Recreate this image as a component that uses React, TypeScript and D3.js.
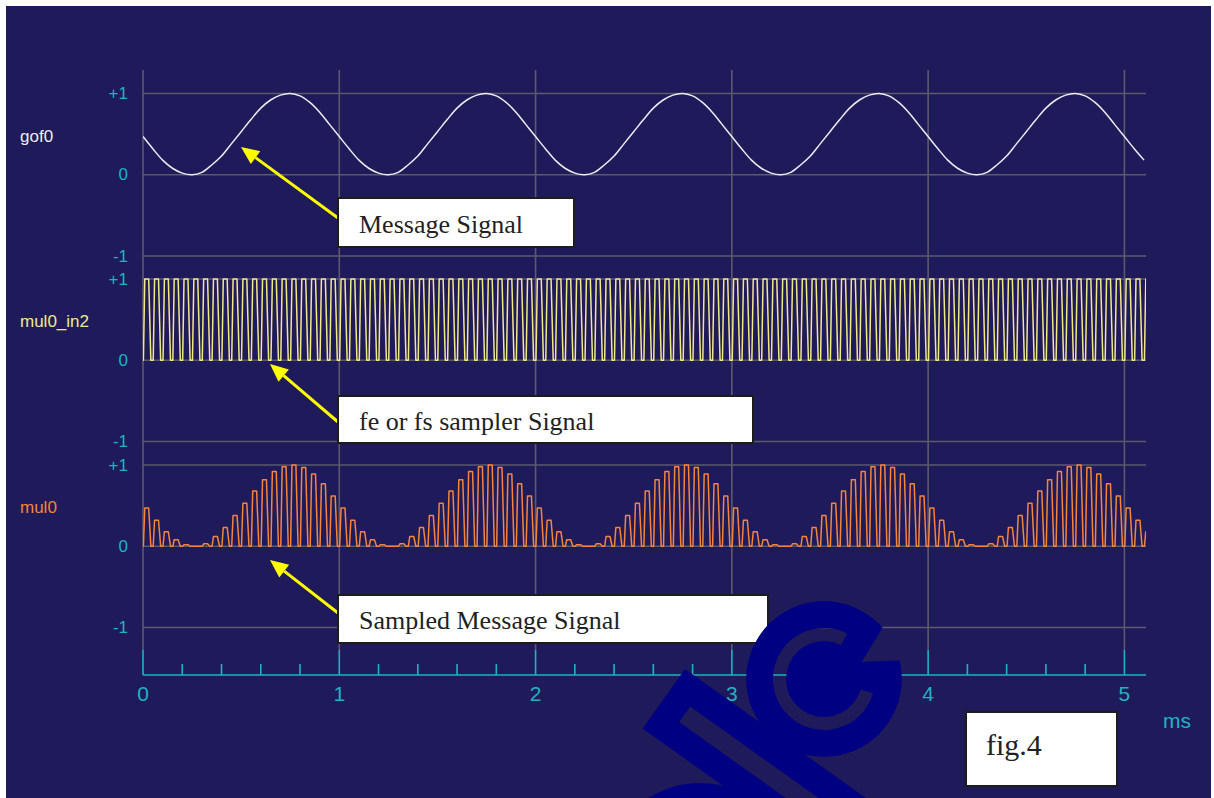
import React from 'react';
import * as d3 from 'd3';

const W = 1214;
const H = 798;

// Time axis (ms)
const timeDomain = [0, 5.11];
const majorTicks = [0, 1, 2, 3, 4, 5];
const minorTicks = [0.2, 0.4, 0.6, 0.8, 1.2, 1.4, 1.6, 1.8, 2.2, 2.4, 2.6, 2.8, 3.2, 3.4, 3.6, 3.8, 4.2, 4.4, 4.6, 4.8];
const timeUnit = 'ms';

// Vertical levels of every channel
const levelValues = [1, 0, -1];
const levelLabels = ['+1', '0', '-1'];

// Channels
const channelNames = ['gof0', 'mul0_in2', 'mul0'];
const channelColors = ['#ecebf2', '#f2e889', '#f5843c'];

// Sampler period (ms) — one clock pulse per message sample
const samplePeriod = 0.05;

// Message signal gof0, one value per sampler period starting at t = 0
const message = [
  0.47, 0.32, 0.18, 0.08, 0.02, 0.0, 0.03, 0.12, 0.23, 0.38, 0.53, 0.68, 0.82, 0.92, 0.98, 1.0, 0.97, 0.89, 0.77, 0.62,
  0.47, 0.32, 0.18, 0.08, 0.02, 0.0, 0.03, 0.12, 0.23, 0.38, 0.53, 0.68, 0.82, 0.92, 0.98, 1.0, 0.97, 0.89, 0.77, 0.62,
  0.47, 0.32, 0.18, 0.08, 0.02, 0.0, 0.03, 0.12, 0.23, 0.38, 0.53, 0.68, 0.82, 0.92, 0.98, 1.0, 0.97, 0.89, 0.77, 0.62,
  0.47, 0.32, 0.18, 0.08, 0.02, 0.0, 0.03, 0.12, 0.23, 0.38, 0.53, 0.68, 0.82, 0.92, 0.98, 1.0, 0.97, 0.89, 0.77, 0.62,
  0.47, 0.32, 0.18, 0.08, 0.02, 0.0, 0.03, 0.12, 0.23, 0.38, 0.53, 0.68, 0.82, 0.92, 0.98, 1.0, 0.97, 0.89, 0.77, 0.62,
  0.47, 0.32, 0.18,
];

// Pulse shape inside one sampler period (ms offsets)
const pulseRiseStart = 0.002;
const pulseTopStart = 0.009;
const pulseTopEnd = 0.029;
const pulseFallEnd = 0.04;

// Callout notes
const callouts = [
  { text: 'Message Signal', box: [338, 198, 236, 49], tail: [338, 218], tip: [241, 147] },
  { text: 'fe or fs sampler Signal', box: [338, 396, 415, 47], tail: [338, 422], tip: [270, 364] },
  { text: 'Sampled Message Signal', box: [338, 595, 430, 48], tail: [338, 613], tip: [270, 560] },
];
const figLabel = 'fig.4';

const BG = '#1f1b5b';
const GRID = '#5b5a6c';
const CYAN = '#1fb3c2';
const WATERMARK = '#000082';

const plotLeft = 143;
const plotRight = 1146;
const panelTops = [93.5, 279, 465];
const panelHeight = 162.5;
const gridTop = 70;
const gridBottom = 650;
const axisY = 675;

function Arrow({ tail, tip }: { tail: number[]; tip: number[] }) {
  const ang = Math.atan2(tip[1] - tail[1], tip[0] - tail[0]);
  const headLen = 18;
  const headHalf = 8;
  const bx = tip[0] - headLen * Math.cos(ang);
  const by = tip[1] - headLen * Math.sin(ang);
  const px = -Math.sin(ang) * headHalf;
  const py = Math.cos(ang) * headHalf;
  return (
    <g>
      <line x1={tail[0]} y1={tail[1]} x2={bx} y2={by} stroke="#ffff00" strokeWidth={3} />
      <polygon points={`${tip[0]},${tip[1]} ${bx + px},${by + py} ${bx - px},${by - py}`} fill="#ffff00" />
    </g>
  );
}

export default function App() {
  const x = d3.scaleLinear().domain(timeDomain).range([plotLeft, plotRight]);
  const yScales = panelTops.map((top) => d3.scaleLinear().domain([-1, 1]).range([top + panelHeight, top]));

  const sampleTimes = message.map((_, i) => i * samplePeriod);

  // gof0: smooth message curve
  const msgPts: [number, number][] = message.map((v, i) => [sampleTimes[i], v]);
  const msgLine = d3
    .line<[number, number]>()
    .x((d) => x(d[0]))
    .y((d) => yScales[0](d[1]))
    .curve(d3.curveCatmullRom)(msgPts);

  // mul0_in2: sampler pulse train ; mul0: message x sampler
  const clockPts: [number, number][] = [[0, 0]];
  const prodPts: [number, number][] = [[0, 0]];
  sampleTimes.forEach((t, i) => {
    clockPts.push([t + pulseRiseStart, 0], [t + pulseTopStart, 1], [t + pulseTopEnd, 1], [t + pulseFallEnd, 0]);
    prodPts.push([t + pulseRiseStart, 0], [t + pulseTopStart, message[i]], [t + pulseTopEnd, message[i]], [t + pulseFallEnd, 0]);
  });
  clockPts.push([timeDomain[1], 0]);
  prodPts.push([timeDomain[1], 0]);
  const clockLine = d3.line<[number, number]>().x((d) => x(d[0])).y((d) => yScales[1](d[1]))(clockPts);
  const prodLine = d3.line<[number, number]>().x((d) => x(d[0])).y((d) => yScales[2](d[1]))(prodPts);

  // Watermark logo pieces
  const cx = 824;
  const cy = 679;
  const cGap = d3.arc()({
    innerRadius: 38,
    outerRadius: 51,
    startAngle: (106 * Math.PI) / 180,
    endAngle: (387 * Math.PI) / 180,
  } as any);

  return (
    <svg
      width={W}
      height={H}
      style={{ position: 'absolute', left: 0, top: 0, display: 'block', background: '#ffffff' }}
      fontFamily="'Liberation Sans', Arial, sans-serif"
    >
      <defs>
        <clipPath id="plotClip">
          <rect x={plotLeft} y={gridTop} width={plotRight - plotLeft} height={gridBottom - gridTop} />
        </clipPath>
        <mask id="logoC" maskUnits="userSpaceOnUse" x={0} y={0} width={W} height={H}>
          <circle cx={cx} cy={cy} r={78} fill="#fff" />
          <path d={cGap ?? ''} transform={`translate(${cx},${cy})`} fill="#000" />
          <polygon points="861.7,661.7 895,608 930,625 930,659.3" fill="#000" />
        </mask>
      </defs>

      <rect x={6} y={6} width={1205} height={792} fill={BG} />

      {/* grid */}
      {majorTicks.map((t) => (
        <line key={`vg${t}`} x1={x(t)} x2={x(t)} y1={gridTop} y2={gridBottom} stroke={GRID} strokeWidth={1.6} />
      ))}
      {yScales.map((ys, p) =>
        levelValues.map((v) => (
          <line key={`hg${p}${v}`} x1={plotLeft} x2={plotRight} y1={ys(v)} y2={ys(v)} stroke={GRID} strokeWidth={1.6} />
        ))
      )}

      {/* level labels and channel names */}
      {yScales.map((ys, p) => (
        <g key={`lbl${p}`}>
          {levelValues.map((v, k) => (
            <text key={k} x={128} y={ys(v)} textAnchor="end" dominantBaseline="central" fontSize={17} fill={CYAN}>
              {levelLabels[k]}
            </text>
          ))}
          <text x={20} y={ys(0.5) + 2} dominantBaseline="central" fontSize={17} fill={channelColors[p]}>
            {channelNames[p]}
          </text>
        </g>
      ))}

      {/* traces */}
      <g clipPath="url(#plotClip)" fill="none" strokeWidth={1.5} strokeLinejoin="round">
        <path d={msgLine ?? ''} stroke={channelColors[0]} />
        <path d={clockLine ?? ''} stroke={channelColors[1]} />
        <path d={prodLine ?? ''} stroke={channelColors[2]} />
      </g>

      {/* time axis */}
      <line x1={plotLeft} x2={plotRight} y1={axisY} y2={axisY} stroke={CYAN} strokeWidth={1.6} />
      {majorTicks.map((t) => (
        <g key={`mt${t}`}>
          <line x1={x(t)} x2={x(t)} y1={gridBottom} y2={axisY} stroke={CYAN} strokeWidth={1.6} />
          <text x={x(t)} y={693} textAnchor="middle" dominantBaseline="central" fontSize={21} fill={CYAN}>
            {t}
          </text>
        </g>
      ))}
      {minorTicks.map((t) => (
        <line key={`nt${t}`} x1={x(t)} x2={x(t)} y1={664} y2={axisY} stroke={CYAN} strokeWidth={1.6} />
      ))}
      <text x={1163} y={720} dominantBaseline="central" fontSize={21} fill={CYAN}>
        {timeUnit}
      </text>

      {/* callouts */}
      {callouts.map((c, i) => (
        <g key={`co${i}`}>
          <Arrow tail={c.tail} tip={c.tip} />
          <rect x={c.box[0]} y={c.box[1]} width={c.box[2]} height={c.box[3]} fill="#ffffff" stroke="#1c1c1c" strokeWidth={2} />
          <text
            x={c.box[0] + 21}
            y={c.box[1] + c.box[3] / 2 + 10}
            fontFamily="'Liberation Serif', 'Times New Roman', serif"
            fontSize={26}
            fill="#222"
          >
            {c.text}
          </text>
        </g>
      ))}

      <rect x={966} y={712} width={151} height={74} fill="#ffffff" stroke="#1c1c1c" strokeWidth={2} />
      <text x={986} y={755} fontFamily="'Liberation Serif', 'Times New Roman', serif" fontSize={30} fill="#222">
        {figLabel}
      </text>

      {/* watermark */}
      <g fill={WATERMARK}>
        <circle cx={cx} cy={cy} r={78} mask="url(#logoC)" />
        <g transform="translate(685,669) rotate(35.5)">
          <path d="M0,0 H320 V73 H0 Z M26,27.5 V46.5 H300 V27.5 Z" fillRule="evenodd" />
        </g>
        <circle cx={700} cy={878} r={95} />
      </g>
    </svg>
  );
}
